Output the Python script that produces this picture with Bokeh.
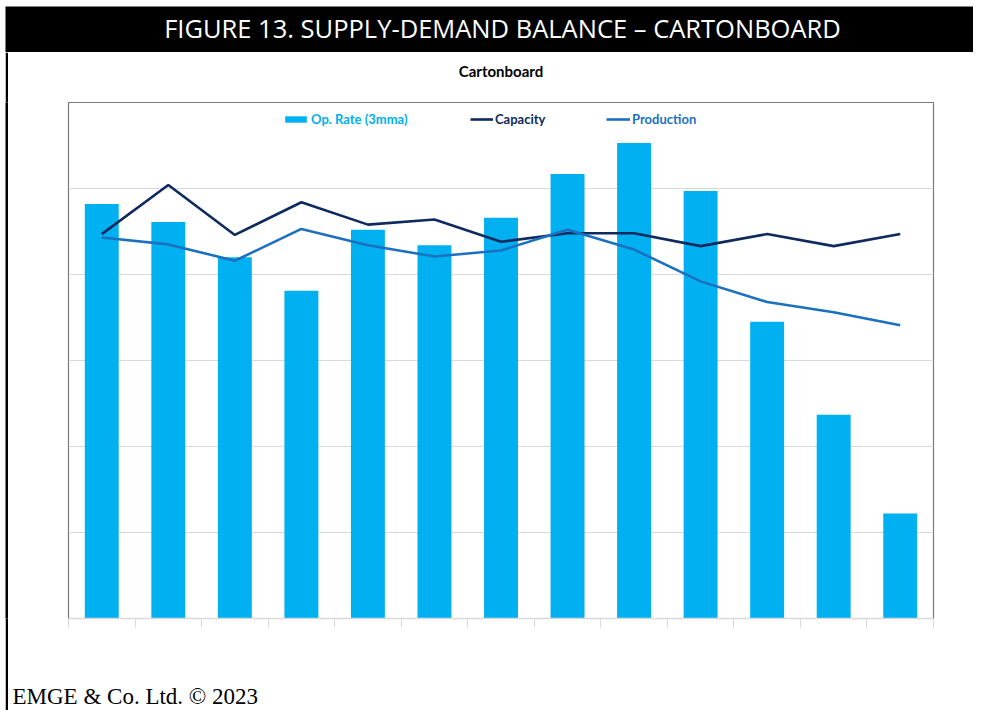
from bokeh.plotting import figure
from bokeh.models import (Range1d, FixedTicker, Legend, LegendItem, Label,
                          ColumnDataSource, Title, Spacer)
from bokeh.layouts import column, row
from bokeh.embed import file_html
from bokeh.resources import INLINE

# ---- data ----
categories = ["P1", "P2", "P3", "P4", "P5", "P6", "P7", "P8", "P9", "P10", "P11", "P12", "P13"]
op_rate = [48.2, 46.1, 42.0, 38.1, 45.2, 43.4, 46.6, 51.7, 55.3, 49.7, 34.5, 23.7, 12.2]
capacity = [44.7, 50.4, 44.6, 48.4, 45.8, 46.4, 43.8, 44.8, 44.8, 43.3, 44.7, 43.3, 44.7]
production = [44.3, 43.5, 41.6, 45.3, 43.4, 42.1, 42.8, 45.2, 42.9, 39.2, 36.8, 35.6, 34.1]
y_ticks = [0, 10, 20, 30, 40, 50, 60]

header_text = "FIGURE 13. SUPPLY-DEMAND BALANCE \u2013 CARTONBOARD"
chart_title = "Cartonboard"
footer_text = "EMGE & Co. Ltd. \u00a9 2023"

BAR = "#00B0F0"
CAP = "#0E2A5E"
PROD = "#1B70C0"
GRID = "#d9d9d9"
FRAME = "#7a7a7a"

xs = [i + 1 for i in range(len(categories))]
src = ColumnDataSource(dict(x=xs, cat=categories, op=op_rate, cap=capacity, prod=production))

def blank(width, height, color):
    f = figure(width=width, height=height, output_backend="svg", toolbar_location=None,
               x_range=Range1d(0, 1), y_range=Range1d(0, 1),
               min_border=0, min_border_left=0, min_border_right=0,
               min_border_top=0, min_border_bottom=0)
    f.axis.visible = False
    f.grid.visible = False
    f.outline_line_color = None
    f.background_fill_color = color
    f.border_fill_color = color
    return f

# ---- header ----
hdr = blank(968, 46, "black")
hdr.add_layout(Label(x=497, y=25, x_units="screen", y_units="screen", text=header_text,
                     text_color="white", text_font="Open Sans", text_font_size="25.5px",
                     text_align="center", text_baseline="middle"))

# ---- left black rule ----
rule = blank(3, 658, "black")

# ---- main chart ----
p = figure(width=965, height=658, output_backend="svg", toolbar_location=None,
           x_range=Range1d(0.5, len(categories) + 0.5), y_range=Range1d(y_ticks[0], y_ticks[-1]),
           min_border_left=60, min_border_right=40, min_border_top=50, min_border_bottom=92,
           title=chart_title)
p.title.align = "center"
p.title.text_font = "Lato"
p.title.text_font_style = "bold"
p.title.text_font_size = "15px"
p.title.text_color = "black"
p.title.standoff = 0

p.outline_line_color = FRAME
p.outline_line_width = 1.2
p.background_fill_color = "white"
p.border_fill_color = "white"

bars = p.vbar(x="x", top="op", width=0.51, source=src, fill_color=BAR, line_color=None)
cap_r = p.line(x="x", y="cap", source=src, line_color=CAP, line_width=2.6)
prod_r = p.line(x="x", y="prod", source=src, line_color=PROD, line_width=2.6)

p.xgrid.visible = False
p.ygrid.ticker = FixedTicker(ticks=y_ticks[1:-1])
p.ygrid.grid_line_color = GRID
p.ygrid.grid_line_width = 1

boundaries = [i + 0.5 for i in range(len(categories) + 1)]
xa = p.xaxis[0]
xa.ticker = FixedTicker(ticks=boundaries)
xa.major_label_overrides = {b: "" for b in boundaries}
xa.axis_line_color = GRID
xa.axis_line_width = 1.5
xa.major_tick_line_color = GRID
xa.major_tick_in = 0
xa.major_tick_out = 9
xa.minor_tick_line_color = None
xa.major_label_text_font_size = "1px"

p.yaxis.visible = False

# empty spacer between frame and chart title
p.add_layout(Title(text=" ", text_font_size="1px", standoff=20), "above")

def make_legend(label, rend, color, loc, gw, gh, standoff):
    lg = Legend(items=[LegendItem(label=label, renderers=[rend])], location=loc,
                orientation="horizontal")
    lg.label_text_color = color
    lg.label_text_font = "Lato"
    lg.label_text_font_style = "bold"
    lg.label_text_font_size = "13px"
    lg.background_fill_alpha = 0
    lg.border_line_color = None
    lg.padding = 0
    lg.margin = 0
    lg.spacing = 0
    lg.glyph_width = gw
    lg.glyph_height = gh
    lg.label_height = 14
    lg.label_standoff = standoff
    p.add_layout(lg)

make_legend("Op. Rate (3mma)", bars, BAR, (214, 491), 27, 8, 2)
make_legend("Capacity", cap_r, CAP, (402, 491), 23, 14, 2)
make_legend("Production", prod_r, PROD, (538, 491), 24, 14, 2)

# ---- footer (left-aligned title below the chart, after an empty spacer) ----
p.add_layout(Title(text=" ", text_font_size="1px", standoff=50), "below")
foot = Title(text=footer_text, align="left", offset=-56, text_font="Liberation Serif",
             text_font_size="23px", text_font_style="normal", text_color="black", standoff=2)
p.add_layout(foot, "below")

layout = column(Spacer(height=6),
                row(Spacer(width=5), column(hdr, row(rule, p))))

open("out.html", "w").write(file_html(layout, INLINE))
